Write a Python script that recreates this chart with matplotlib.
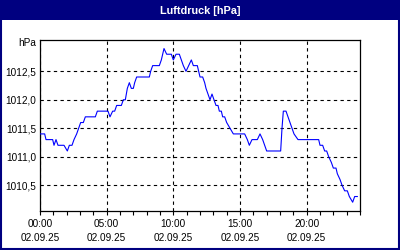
import matplotlib
matplotlib.use("Agg")
import matplotlib.pyplot as plt
from matplotlib.patches import Rectangle

# Luftdruck over the day, time in hours since 00:00
hours = [0.0, 0.35, 0.45, 0.95, 1.05, 1.2, 1.35, 1.8, 2.05, 2.2, 2.4, 2.55, 2.75, 2.9,
         3.05, 3.25, 3.4, 4.15, 4.3, 5.1, 5.25, 5.45, 5.6, 5.75, 6.1, 6.25, 6.4, 6.55,
         6.7, 6.85, 7.0, 7.1, 7.25, 8.2, 8.3, 8.45, 8.95, 9.1, 9.3, 9.5, 9.85, 10.0,
         10.2, 10.45, 10.6, 10.75, 10.95, 11.15, 11.35, 11.5, 11.8, 11.9, 12.0, 12.2,
         12.35, 12.45, 12.6, 12.75, 12.9, 13.05, 13.2, 13.35, 13.45, 13.6, 13.7, 13.85,
         14.0, 14.25, 14.5, 15.35, 15.55, 15.7, 15.9, 16.3, 16.5, 16.7, 16.85, 17.0,
         18.05, 18.15, 18.25, 18.45, 18.6, 18.75, 18.9, 19.05, 19.35, 20.9, 21.0, 21.2,
         21.35, 21.5, 21.65, 21.85, 22.0, 22.2, 22.3, 22.5, 22.65, 22.85, 23.05, 23.2,
         23.45, 23.6, 23.8]
pressure = [1011.4, 1011.4, 1011.3, 1011.3, 1011.2, 1011.3, 1011.2, 1011.2, 1011.1, 1011.2,
            1011.2, 1011.3, 1011.4, 1011.5, 1011.6, 1011.6, 1011.7, 1011.7, 1011.8, 1011.8,
            1011.7, 1011.8, 1011.8, 1011.9, 1011.9, 1012.0, 1012.0, 1012.2, 1012.3, 1012.2,
            1012.2, 1012.3, 1012.4, 1012.4, 1012.5, 1012.6, 1012.6, 1012.7, 1012.9, 1012.8,
            1012.8, 1012.7, 1012.8, 1012.8, 1012.7, 1012.6, 1012.5, 1012.6, 1012.7, 1012.6,
            1012.6, 1012.5, 1012.4, 1012.4, 1012.3, 1012.2, 1012.1, 1012.0, 1012.1, 1012.0,
            1011.9, 1011.9, 1011.8, 1011.8, 1011.7, 1011.7, 1011.6, 1011.5, 1011.4, 1011.4,
            1011.3, 1011.2, 1011.3, 1011.3, 1011.4, 1011.3, 1011.2, 1011.1, 1011.1, 1011.5,
            1011.8, 1011.8, 1011.7, 1011.6, 1011.5, 1011.4, 1011.3, 1011.3, 1011.2, 1011.2,
            1011.1, 1011.1, 1011.0, 1010.9, 1010.8, 1010.8, 1010.7, 1010.6, 1010.5, 1010.4,
            1010.4, 1010.3, 1010.2, 1010.3, 1010.3]

x_ticks = [0, 5, 10, 15, 20]
x_labels = ["00:00\n02.09.25", "05:00\n02.09.25", "10:00\n02.09.25",
            "15:00\n02.09.25", "20:00\n02.09.25"]
y_ticks = [1010.5, 1011.0, 1011.5, 1012.0, 1012.5]
y_labels = ["1010,5", "1011,0", "1011,5", "1012,0", "1012,5"]
title = "Luftdruck [hPa]"

NAVY = "#000080"
FONT = "Liberation Sans"
FS = 7.2

fig = plt.figure(figsize=(4, 2.5), dpi=100)
fig.patch.set_facecolor("white")

# title bar and frame
fig.patches.append(Rectangle((0, 0.92), 1, 0.08, transform=fig.transFigure,
                             facecolor=NAVY, edgecolor="none", zorder=0))
fig.patches.append(Rectangle((0.0025, 0.004), 0.995, 0.99, transform=fig.transFigure,
                             facecolor="none", edgecolor=NAVY, linewidth=1.5, zorder=1))
fig.text(0.5, 0.958, title, color="white", fontweight="bold", fontsize=7.8,
         family=FONT, ha="center", va="center")

ax = fig.add_axes([0.1, 0.157, 0.8, 0.683])
ax.plot(hours, pressure, color="#0000ff", linewidth=0.8, zorder=3)

ax.set_xlim(0, 24)
ax.set_ylim(1010.05, 1013.05)

ax.set_xticks(x_ticks)
ax.set_xticklabels(x_labels, linespacing=1.55)
ax.set_xticks(range(0, 25), minor=True)
ax.set_yticks(y_ticks)
ax.set_yticklabels(y_labels)

ax.tick_params(axis="x", which="both", direction="out", length=2.9, width=0.8,
               pad=2.7, labelsize=FS, colors="black")
ax.tick_params(axis="y", length=0, pad=2.5, labelsize=FS)
for lab in ax.get_xticklabels() + ax.get_yticklabels():
    lab.set_family(FONT)

ax.grid(True, which="major", color="black", linewidth=0.8, linestyle=(0, (3, 3)))
ax.set_axisbelow(True)
for sp in ax.spines.values():
    sp.set_color("black")
    sp.set_linewidth(0.9)

ax.annotate("hPa", xy=(0, 1013.0), xycoords=("axes fraction", "data"),
            xytext=(-3.5, 0), textcoords="offset pixels", ha="right", va="center",
            fontsize=FS, family=FONT)

fig.savefig("out.png", dpi=100)
